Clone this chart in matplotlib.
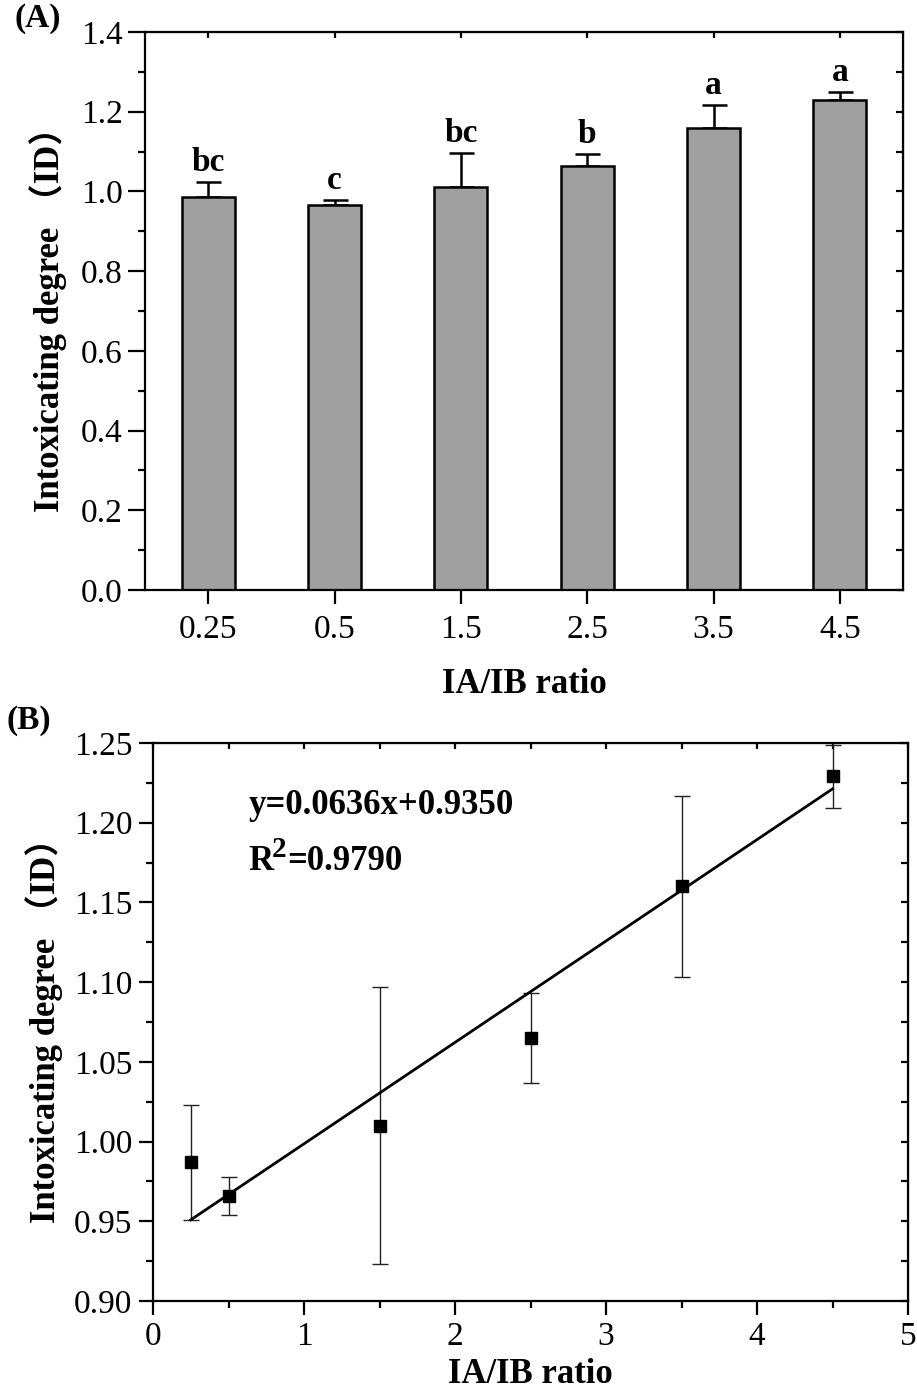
import numpy as np
import matplotlib
matplotlib.use("Agg")
import matplotlib.pyplot as plt
from matplotlib.ticker import MultipleLocator, FormatStrFormatter, NullFormatter

# ---- data ----
categories = ["0.25", "0.5", "1.5", "2.5", "3.5", "4.5"]
ratio_x = [0.25, 0.5, 1.5, 2.5, 3.5, 4.5]
id_mean = [0.987, 0.966, 1.010, 1.065, 1.160, 1.229]
id_err = [0.036, 0.012, 0.087, 0.028, 0.057, 0.020]
letters = ["bc", "c", "bc", "b", "a", "a"]
fit_slope = 0.0636
fit_intercept = 0.9350
fit_text = "y=0.0636x+0.9350"
r2_value = "=0.9790"

FAM = ["Liberation Serif", "Noto Sans CJK SC"]
plt.rcParams["font.family"] = FAM

W, H = 917, 1396
fig = plt.figure(figsize=(W / 100, H / 100), dpi=100)

TICK_FS = 24
LAB_FS = 25
SPINE_LW = 1.6

def style_axes(ax):
    for s in ax.spines.values():
        s.set_linewidth(SPINE_LW)
    ax.tick_params(axis="both", which="major", labelsize=TICK_FS, width=SPINE_LW)
    ax.tick_params(axis="both", which="minor", width=SPINE_LW)

# ---------------- Panel A ----------------
axA = fig.add_axes([145 / W, 1 - 590 / H, 758 / W, 558 / H])
pos = np.arange(len(categories))
axA.bar(pos, id_mean, width=0.42, color="#a0a0a0", edgecolor="black", linewidth=1.8, zorder=2)
axA.errorbar(pos, id_mean, yerr=[np.zeros(len(id_err)), id_err], fmt="none",
             ecolor="black", elinewidth=1.8, capsize=9, capthick=1.8, zorder=1)
for p, m, e, t in zip(pos, id_mean, id_err, letters):
    axA.text(p, m + e + 0.010, t, ha="center", va="bottom", fontsize=24, fontweight="bold")
axA.set_xlim(-0.5, 5.5)
axA.set_ylim(0, 1.4)
axA.set_xticks(pos)
axA.set_xticklabels(categories)
axA.yaxis.set_major_locator(MultipleLocator(0.2))
axA.yaxis.set_minor_locator(MultipleLocator(0.1))
axA.yaxis.set_major_formatter(FormatStrFormatter("%.1f"))
style_axes(axA)
axA.tick_params(axis="x", which="major", direction="out", length=10, top=False, pad=8)
axA.tick_params(axis="y", which="major", direction="out", length=12, right=False, pad=4)
axA.tick_params(axis="y", which="minor", direction="out", length=5, right=False)
secx = axA.secondary_xaxis("top")
secx.set_xticks(pos)
secx.set_xticklabels([])
secx.tick_params(direction="in", length=4, width=SPINE_LW)
secy = axA.secondary_yaxis("right")
secy.yaxis.set_major_locator(MultipleLocator(0.2))
secy.yaxis.set_minor_locator(MultipleLocator(0.1))
secy.set_yticklabels([])
secy.yaxis.set_minor_formatter(NullFormatter())
secy.tick_params(which="both", direction="in", length=5, width=SPINE_LW)
axA.set_xlabel("IA/IB ratio", fontsize=LAB_FS, fontweight="bold", labelpad=16)
axA.set_ylabel("Intoxicating degree （ID）", fontsize=LAB_FS, fontweight="bold", labelpad=10)
fig.text(14 / W, 1 - 18 / H, "(A)", fontsize=24, fontweight="bold", va="center", ha="left")

# ---------------- Panel B ----------------
axB = fig.add_axes([153 / W, 1 - 1301 / H, 755 / W, 558 / H])
axB.errorbar(ratio_x, id_mean, yerr=id_err, fmt="none", ecolor="#222222",
             elinewidth=1.0, capsize=6, capthick=1.0, zorder=2)
axB.plot(ratio_x, id_mean, "s", color="black", markersize=8, zorder=3)
fx = np.array([ratio_x[0], ratio_x[-1]])
axB.plot(fx, fit_slope * fx + fit_intercept, color="black", linewidth=2.0, zorder=2)
axB.text(0.63, 1.2105, fit_text, fontsize=25, fontweight="bold", va="center", ha="left")
r_txt = axB.text(0.63, 1.1755, "R", fontsize=25, fontweight="bold", va="center", ha="left")
axB.annotate("2", xy=(0.63, 1.1755), xytext=(17, 9), textcoords="offset points",
             fontsize=21, fontweight="bold", va="center", ha="left")
axB.annotate(r2_value, xy=(0.63, 1.1755), xytext=(28, 0), textcoords="offset points",
             fontsize=25, fontweight="bold", va="center", ha="left")
axB.set_xlim(0, 5)
axB.set_ylim(0.90, 1.25)
axB.xaxis.set_major_locator(MultipleLocator(1))
axB.xaxis.set_minor_locator(MultipleLocator(0.5))
axB.yaxis.set_major_locator(MultipleLocator(0.05))
axB.yaxis.set_minor_locator(MultipleLocator(0.025))
axB.yaxis.set_major_formatter(FormatStrFormatter("%.2f"))
style_axes(axB)
axB.tick_params(axis="both", which="major", direction="out", length=10, top=False, right=False, pad=5)
axB.tick_params(axis="both", which="minor", direction="out", length=5, top=False, right=False)
secx2 = axB.secondary_xaxis("top")
secx2.xaxis.set_major_locator(MultipleLocator(1))
secx2.xaxis.set_minor_locator(MultipleLocator(0.5))
secx2.set_xticklabels([])
secx2.xaxis.set_minor_formatter(NullFormatter())
secx2.tick_params(which="both", direction="in", length=4, width=SPINE_LW)
secy2 = axB.secondary_yaxis("right")
secy2.yaxis.set_major_locator(MultipleLocator(0.05))
secy2.yaxis.set_minor_locator(MultipleLocator(0.025))
secy2.set_yticklabels([])
secy2.yaxis.set_minor_formatter(NullFormatter())
secy2.tick_params(which="both", direction="in", length=5, width=SPINE_LW)
axB.set_xlabel("IA/IB ratio", fontsize=LAB_FS, fontweight="bold", labelpad=4)
axB.set_ylabel("Intoxicating degree （ID）", fontsize=LAB_FS, fontweight="bold", labelpad=8)
fig.text(7 / W, 1 - 720 / H, "(B)", fontsize=24, fontweight="bold", va="center", ha="left")

fig.savefig("out.png", dpi=100)
